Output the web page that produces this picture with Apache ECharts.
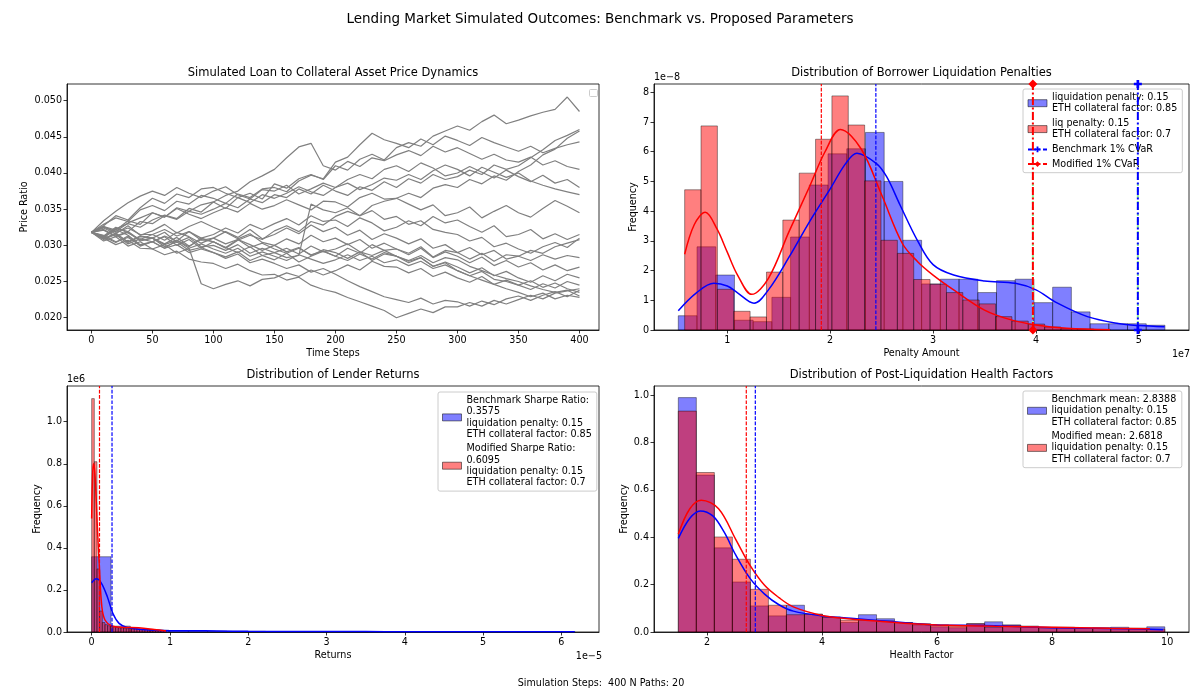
<!DOCTYPE html>
<html>
<head>
<meta charset="utf-8">
<title>Lending Market Simulated Outcomes</title>
<script src="https://cdn.jsdelivr.net/npm/echarts@6/dist/echarts.min.js"></script>
<style>
  html, body { margin: 0; padding: 0; background: #fff; }
  #chart { width: 1200px; height: 693px; }
</style>
</head>
<body>
<div id="chart"></div>
<script>
// ---- price paths (top left), read every 10 steps ----
const steps = [0,10,20,30,40,50,60,70,80,90,100,110,120,130,140,150,160,170,180,190,200,210,220,230,240,250,260,270,280,290,300,310,320,330,340,350,360,370,380,390,400];
const pathA = [0.0318,0.0326,0.0321,0.0334,0.0329,0.0345,0.0339,0.0352,0.0347,0.0356,0.0360,0.0351,0.0366,0.0372,0.0364,0.0385,0.0379,0.0392,0.0398,0.0391,0.0410,0.0404,0.0419,0.0426,0.0418,0.0435,0.0442,0.0437,0.0451,0.0458,0.0465,0.0459,0.0471,0.0480,0.0468,0.0473,0.0479,0.0484,0.0488,0.0505,0.0485];
const pathB = [0.0318,0.0312,0.0324,0.0319,0.0333,0.0330,0.0341,0.0336,0.0347,0.0343,0.0350,0.0358,0.0352,0.0364,0.0359,0.0370,0.0366,0.0378,0.0371,0.0383,0.0375,0.0369,0.0381,0.0376,0.0388,0.0380,0.0392,0.0386,0.0398,0.0391,0.0395,0.0404,0.0398,0.0411,0.0405,0.0410,0.0421,0.0432,0.0445,0.0452,0.0460];
const pathC = [0.0318,0.0309,0.0316,0.0305,0.0313,0.0310,0.0302,0.0311,0.0299,0.0308,0.0305,0.0296,0.0307,0.0314,0.0308,0.0320,0.0327,0.0319,0.0333,0.0328,0.0340,0.0347,0.0341,0.0355,0.0361,0.0365,0.0372,0.0366,0.0379,0.0384,0.0380,0.0391,0.0385,0.0396,0.0390,0.0402,0.0411,0.0425,0.0433,0.0448,0.0458];
const pathD = [0.0318,0.0329,0.0338,0.0333,0.0349,0.0355,0.0348,0.0361,0.0357,0.0369,0.0365,0.0358,0.0371,0.0366,0.0378,0.0380,0.0374,0.0389,0.0397,0.0392,0.0415,0.0422,0.0439,0.0455,0.0446,0.0441,0.0435,0.0447,0.0439,0.0451,0.0445,0.0438,0.0449,0.0442,0.0436,0.0430,0.0437,0.0428,0.0434,0.0439,0.0443];
const pathE = [0.0318,0.0311,0.0323,0.0330,0.0325,0.0335,0.0342,0.0337,0.0351,0.0346,0.0360,0.0369,0.0375,0.0388,0.0396,0.0405,0.0421,0.0436,0.0441,0.0410,0.0404,0.0416,0.0409,0.0421,0.0417,0.0425,0.0431,0.0424,0.0437,0.0429,0.0435,0.0427,0.0419,0.0426,0.0418,0.0415,0.0422,0.0411,0.0417,0.0409,0.0405];
const pathF = [0.0318,0.0334,0.0347,0.0359,0.0368,0.0375,0.0369,0.0380,0.0372,0.0366,0.0375,0.0381,0.0370,0.0364,0.0377,0.0375,0.0383,0.0371,0.0378,0.0386,0.0380,0.0391,0.0398,0.0392,0.0405,0.0410,0.0402,0.0414,0.0407,0.0396,0.0400,0.0409,0.0401,0.0393,0.0404,0.0395,0.0388,0.0397,0.0386,0.0391,0.0380];
const pathG = [0.0318,0.0327,0.0341,0.0335,0.0352,0.0365,0.0358,0.0371,0.0366,0.0378,0.0380,0.0372,0.0366,0.0359,0.0370,0.0365,0.0372,0.0381,0.0374,0.0369,0.0380,0.0386,0.0377,0.0384,0.0393,0.0390,0.0398,0.0391,0.0403,0.0411,0.0405,0.0396,0.0408,0.0401,0.0394,0.0400,0.0389,0.0383,0.0378,0.0374,0.0370];
const pathH = [0.0318,0.0325,0.0319,0.0331,0.0338,0.0345,0.0339,0.0351,0.0343,0.0337,0.0345,0.0352,0.0346,0.0358,0.0350,0.0355,0.0363,0.0356,0.0349,0.0361,0.0360,0.0353,0.0366,0.0372,0.0364,0.0365,0.0357,0.0349,0.0356,0.0341,0.0345,0.0353,0.0338,0.0347,0.0355,0.0345,0.0339,0.0351,0.0362,0.0354,0.0345];
const pathI = [0.0318,0.0311,0.0322,0.0314,0.0301,0.0305,0.0313,0.0306,0.0319,0.0310,0.0315,0.0324,0.0317,0.0329,0.0322,0.0330,0.0337,0.0328,0.0341,0.0333,0.0335,0.0326,0.0338,0.0331,0.0320,0.0325,0.0334,0.0327,0.0340,0.0331,0.0335,0.0326,0.0318,0.0327,0.0312,0.0315,0.0322,0.0309,0.0316,0.0308,0.0315];
const pathJ = [0.0318,0.0322,0.0313,0.0319,0.0307,0.0310,0.0318,0.0304,0.0311,0.0298,0.0300,0.0293,0.0301,0.0289,0.0296,0.0290,0.0283,0.0286,0.0357,0.0349,0.0345,0.0352,0.0341,0.0348,0.0336,0.0340,0.0329,0.0334,0.0322,0.0318,0.0315,0.0306,0.0311,0.0298,0.0303,0.0295,0.0289,0.0298,0.0304,0.0297,0.0310];
const pathK = [0.0318,0.0324,0.0316,0.0327,0.0314,0.0320,0.0329,0.0317,0.0326,0.0333,0.0325,0.0318,0.0309,0.0316,0.0304,0.0300,0.0309,0.0302,0.0314,0.0305,0.0310,0.0301,0.0308,0.0296,0.0303,0.0295,0.0289,0.0298,0.0284,0.0293,0.0290,0.0281,0.0289,0.0278,0.0287,0.0285,0.0293,0.0289,0.0298,0.0303,0.0308];
const pathL = [0.0318,0.0313,0.0325,0.0317,0.0308,0.0315,0.0307,0.0318,0.0312,0.0303,0.0310,0.0319,0.0311,0.0322,0.0309,0.0315,0.0324,0.0316,0.0328,0.0319,0.0325,0.0314,0.0321,0.0308,0.0316,0.0310,0.0302,0.0309,0.0296,0.0301,0.0290,0.0297,0.0287,0.0293,0.0281,0.0285,0.0279,0.0287,0.0281,0.0286,0.0283];
const pathM = [0.0318,0.0309,0.0317,0.0304,0.0312,0.0310,0.0298,0.0305,0.0293,0.0297,0.0290,0.0284,0.0291,0.0279,0.0286,0.0280,0.0289,0.0277,0.0285,0.0292,0.0285,0.0296,0.0289,0.0301,0.0293,0.0295,0.0287,0.0296,0.0283,0.0291,0.0285,0.0276,0.0284,0.0272,0.0279,0.0270,0.0276,0.0266,0.0273,0.0265,0.0270];
const pathN = [0.0318,0.0312,0.0304,0.0313,0.0299,0.0305,0.0296,0.0307,0.0298,0.0310,0.0305,0.0297,0.0308,0.0301,0.0293,0.0300,0.0291,0.0297,0.0286,0.0294,0.0290,0.0282,0.0291,0.0279,0.0288,0.0285,0.0276,0.0283,0.0271,0.0277,0.0270,0.0262,0.0269,0.0258,0.0264,0.0255,0.0249,0.0258,0.0251,0.0260,0.0255];
const pathO = [0.0318,0.0306,0.0312,0.0299,0.0305,0.0295,0.0301,0.0289,0.0296,0.0247,0.0240,0.0246,0.0251,0.0244,0.0253,0.0255,0.0262,0.0257,0.0266,0.0259,0.0265,0.0273,0.0266,0.0278,0.0271,0.0270,0.0262,0.0268,0.0257,0.0263,0.0255,0.0249,0.0257,0.0246,0.0252,0.0245,0.0239,0.0247,0.0241,0.0250,0.0245];
const pathP = [0.0318,0.0310,0.0301,0.0307,0.0296,0.0295,0.0287,0.0292,0.0281,0.0277,0.0275,0.0268,0.0274,0.0265,0.0259,0.0260,0.0252,0.0256,0.0245,0.0239,0.0235,0.0228,0.0222,0.0216,0.0210,0.0200,0.0206,0.0212,0.0207,0.0215,0.0215,0.0221,0.0216,0.0224,0.0219,0.0225,0.0231,0.0226,0.0234,0.0237,0.0240];
const pathQ = [0.0318,0.0314,0.0305,0.0311,0.0300,0.0305,0.0296,0.0301,0.0290,0.0295,0.0290,0.0282,0.0288,0.0276,0.0281,0.0275,0.0268,0.0273,0.0263,0.0268,0.0260,0.0251,0.0243,0.0236,0.0229,0.0225,0.0221,0.0227,0.0219,0.0224,0.0222,0.0216,0.0223,0.0218,0.0226,0.0230,0.0224,0.0231,0.0236,0.0229,0.0238];
const pathR = [0.0318,0.0321,0.0312,0.0318,0.0306,0.0310,0.0301,0.0307,0.0296,0.0302,0.0295,0.0289,0.0296,0.0285,0.0291,0.0285,0.0279,0.0287,0.0281,0.0275,0.0280,0.0287,0.0279,0.0285,0.0276,0.0280,0.0272,0.0278,0.0268,0.0273,0.0265,0.0258,0.0264,0.0253,0.0250,0.0245,0.0251,0.0242,0.0248,0.0240,0.0235];
const pathS = [0.0318,0.0326,0.0318,0.0324,0.0315,0.0315,0.0322,0.0313,0.0319,0.0307,0.0310,0.0302,0.0308,0.0297,0.0303,0.0295,0.0289,0.0296,0.0287,0.0292,0.0285,0.0279,0.0288,0.0281,0.0290,0.0285,0.0279,0.0286,0.0276,0.0283,0.0280,0.0271,0.0265,0.0259,0.0254,0.0250,0.0244,0.0239,0.0235,0.0238,0.0230];
const pathT = [0.0318,0.0308,0.0315,0.0302,0.0309,0.0305,0.0312,0.0300,0.0308,0.0296,0.0305,0.0297,0.0290,0.0298,0.0286,0.0290,0.0296,0.0288,0.0299,0.0291,0.0295,0.0302,0.0291,0.0286,0.0293,0.0285,0.0278,0.0283,0.0271,0.0276,0.0265,0.0258,0.0252,0.0246,0.0240,0.0235,0.0229,0.0234,0.0226,0.0231,0.0228];
const pricePaths = [pathA, pathB, pathC, pathD, pathE, pathF, pathG, pathH, pathI, pathJ, pathK, pathL, pathM, pathN, pathO, pathP, pathQ, pathR, pathS, pathT];

// ---- borrower liquidation penalties (top right), x in 1e7, density in 1e-8 ----
const penaltyBenchStart = 0.524, penaltyBenchWidth = 0.1819;
const penaltyBench = [0.48,2.80,1.85,0.33,0.28,1.10,3.13,4.88,5.93,6.10,6.65,5.00,3.02,1.55,1.71,1.71,1.26,1.66,1.71,0.92,1.44,0.61,0.21,0.21,0.21,0.16];
const penaltyModStart = 0.586, penaltyModWidth = 0.159;
const penaltyMod = [4.72,6.87,1.37,0.63,0.44,1.95,3.70,5.28,6.42,7.88,6.90,5.02,3.02,2.58,1.70,1.54,1.26,1.01,0.88,0.45,0.30,0.20,0.10,0.05,0.03,0.02];
const penaltyBenchKdeX = [0.524,0.70,0.87,1.00,1.10,1.26,1.40,1.60,1.80,2.00,2.15,2.26,2.45,2.55,2.68,2.85,3.00,3.20,3.50,3.80,4.00,4.20,4.50,4.80,5.00,5.25];
const penaltyBenchKdeY = [0.65,1.25,1.57,1.48,1.25,0.90,1.35,2.45,3.65,4.75,5.60,5.95,5.60,5.15,4.20,3.00,2.20,1.85,1.65,1.57,1.35,0.92,0.45,0.22,0.15,0.11];
const penaltyModKdeX = [0.586,0.68,0.786,0.90,1.00,1.10,1.237,1.40,1.60,1.80,1.95,2.10,2.30,2.50,2.70,2.85,3.00,3.20,3.50,3.75,4.00,4.30,4.72];
const penaltyModKdeY = [2.55,3.55,3.96,3.40,2.62,1.85,1.20,1.74,3.31,4.83,6.00,6.75,6.10,4.55,2.92,2.30,1.85,1.35,0.67,0.35,0.17,0.06,0.01];
const penaltyMeans = { bench: 2.444, mod: 1.914 };
const penaltyCvar = { bench: 4.99, mod: 3.97 };

// ---- lender returns (bottom left), x in 1e-5, density in 1e6 ----
const returnBenchStart = 0, returnBenchWidth = 0.247;
const returnBench = [0.358,0.028,0.012,0.008,0.006,0.005,0.004,0.003,0.003,0.002,0.002,0.002,0.002,0.001,0.001,0.001,0.001,0.001,0.001,0.001,0.001,0.001,0.0005,0.0005,0.0005];
const returnModStart = 0, returnModWidth = 0.034;
const returnMod = [1.11,0.81,0.30,0.10,0.045,0.035,0.030,0.028,0.025,0.022,0.020,0.020,0.018,0.016,0.018,0.020,0.018,0.016,0.015,0.014,0.012,0.012,0.012,0.010,0.010,0.009,0.008,0.006];
const returnBenchKdeX = [0,0.06,0.12,0.20,0.27,0.35,0.45,0.60,0.80,1.00,1.30,1.60,2.00,2.50,3.00,3.50,4.00,4.50,5.00,5.50,6.17];
const returnBenchKdeY = [0.234,0.253,0.235,0.168,0.089,0.041,0.022,0.013,0.008,0.006,0.006,0.005,0.003,0.002,0.002,0.002,0.001,0.001,0.001,0.001,0.001];
const returnModKdeX = [0,0.01,0.022,0.035,0.05,0.07,0.10,0.13,0.17,0.25,0.40,0.60,0.80,0.95];
const returnModKdeY = [0.54,0.72,0.80,0.78,0.70,0.52,0.295,0.12,0.057,0.030,0.022,0.020,0.012,0.005];
const returnMeans = { bench: 0.26, mod: 0.10 };

// ---- post-liquidation health factors (bottom right) ----
const healthStart = 1.5, healthWidth = 0.3133;
const healthBench = [0.989,0.662,0.355,0.211,0.110,0.068,0.113,0.075,0.063,0.040,0.073,0.056,0.040,0.030,0.022,0.018,0.035,0.043,0.030,0.025,0.020,0.018,0.015,0.018,0.020,0.016,0.022];
const healthMod = [0.932,0.673,0.401,0.307,0.180,0.113,0.073,0.075,0.062,0.050,0.050,0.047,0.040,0.035,0.030,0.025,0.035,0.020,0.028,0.020,0.018,0.020,0.016,0.015,0.015,0.014,0.012];
const healthBenchKdeX = [1.5,1.7,1.88,2.1,2.3,2.5,2.75,3.0,3.25,3.5,4.0,4.5,5.0,5.5,6.0,6.5,7.0,7.5,8.0,8.5,9.0,9.5,9.93];
const healthBenchKdeY = [0.395,0.48,0.511,0.49,0.42,0.324,0.225,0.16,0.115,0.088,0.068,0.058,0.048,0.038,0.030,0.028,0.026,0.022,0.018,0.016,0.015,0.013,0.010];
const healthModKdeX = [1.5,1.7,1.9,2.2,2.5,2.75,3.0,3.25,3.5,4.0,4.5,5.0,5.5,6.0,7.0,8.0,9.0,9.7];
const healthModKdeY = [0.413,0.52,0.556,0.52,0.39,0.28,0.197,0.145,0.106,0.070,0.055,0.045,0.036,0.030,0.024,0.020,0.016,0.014];
const healthMeans = { bench: 2.8388, mod: 2.6818 };

// ---- tick labels ----
const stepTicks = [0,50,100,150,200,250,300,350,400];
const priceTicks = [0.020,0.025,0.030,0.035,0.040,0.045,0.050];
const penaltyTicks = [1,2,3,4,5];
const penaltyFreqTicks = [0,1,2,3,4,5,6,7,8];
const returnTicks = [0,1,2,3,4,5,6];
const healthTicks = [2,4,6,8,10];
const freqTicks = [0,0.2,0.4,0.6,0.8,1.0];

const FONT = 'DejaVu Sans';
const BLUE = '#0000ff', RED = '#ff0000';
const BLUE_FILL = 'rgba(0,0,255,0.5)', RED_FILL = 'rgba(255,0,0,0.5)';
const EDGE = 'rgba(0,0,0,0.5)';

// y-limits (top of each panel)
const yTop = [0.0523, 8.28, 1.17, 1.038];

const names = {
  penBench: 'liquidation penalty: 0.15\nETH collateral factor: 0.85',
  penMod: 'liq penalty: 0.15\nETH collateral factor: 0.7',
  cvarBench: 'Benchmark 1% CVaR',
  cvarMod: 'Modified 1% CVaR',
  retBench: 'Benchmark Sharpe Ratio:\n0.3575\nliquidation penalty: 0.15\nETH collateral factor: 0.85',
  retMod: 'Modified Sharpe Ratio:\n0.6095\nliquidation penalty: 0.15\nETH collateral factor: 0.7',
  hfBench: 'Benchmark mean: 2.8388\nliquidation penalty: 0.15\nETH collateral factor: 0.85',
  hfMod: 'Modified mean: 2.6818\nliquidation penalty: 0.15\nETH collateral factor: 0.7'
};

function makeBins(start, width, heights) {
  return heights.map((h, i) => [start + i * width, start + (i + 1) * width, h]);
}
function zip(xs, ys) { return xs.map((x, i) => [x, ys[i]]); }

function histSeries(name, bins, fill, g) {
  return {
    type: 'custom', name, xAxisIndex: g, yAxisIndex: g, data: bins,
    encode: { x: [0, 1], y: 2 }, silent: true,
    itemStyle: { color: fill, borderColor: EDGE, borderWidth: 1 },
    renderItem: function (params, api) {
      const p0 = api.coord([api.value(0), api.value(2)]);
      const p1 = api.coord([api.value(1), 0]);
      return {
        type: 'rect',
        shape: { x: p0[0], y: p0[1], width: p1[0] - p0[0], height: p1[1] - p0[1] },
        style: { fill: fill, stroke: EDGE, lineWidth: 0.8 }
      };
    }
  };
}
function kdeSeries(name, data, color, g) {
  return {
    type: 'line', name, xAxisIndex: g, yAxisIndex: g, data, symbol: 'none',
    smooth: 0.35, silent: true, lineStyle: { color, width: 1.5 }
  };
}
function vline(name, x, g, lineStyle, extra) {
  return Object.assign({
    type: 'line', name, xAxisIndex: g, yAxisIndex: g,
    data: [[x, 0], [x, yTop[g]]], symbol: 'none', silent: true, lineStyle
  }, extra || {});
}

function axisOf(g, pos, min, max, ticks, name, gap, fmt) {
  return {
    type: 'value', gridIndex: g, position: pos, min, max, name, nameLocation: 'middle', nameGap: gap,
    nameTextStyle: { fontFamily: FONT, fontSize: 9.6, color: '#000' },
    axisLine: { show: true, onZero: false, lineStyle: { color: '#000', width: 0.8 } },
    splitLine: { show: false },
    axisTick: { show: true, customValues: ticks, length: 3.5, lineStyle: { color: '#000', width: 0.8 } },
    axisLabel: { customValues: ticks, formatter: fmt, fontFamily: FONT, fontSize: 9.6, color: '#000', margin: 5 }
  };
}

const gridBox = { show: true, borderColor: '#000', borderWidth: 0.8, outerBoundsMode: 'none' };
const grids = [
  Object.assign({ left: 67, top: 84, width: 532, height: 246 }, gridBox),
  Object.assign({ left: 654, top: 84, width: 535, height: 246 }, gridBox),
  Object.assign({ left: 67, top: 386, width: 532, height: 246 }, gridBox),
  Object.assign({ left: 654, top: 386, width: 535, height: 246 }, gridBox)
];

const plain = v => String(v);
const xAxes = [
  axisOf(0, 'bottom', -20, 416, stepTicks, 'Time Steps', 18, plain),
  axisOf(1, 'bottom', 0.288, 5.487, penaltyTicks, 'Penalty Amount', 18, plain),
  axisOf(2, 'bottom', -0.315, 6.48, returnTicks, 'Returns', 18, plain),
  axisOf(3, 'bottom', 1.077, 10.38, healthTicks, 'Health Factor', 18, plain)
];
const yAxes = [
  axisOf(0, 'left', 0.0183, yTop[0], priceTicks, 'Price Ratio', 38, v => v.toFixed(3)),
  axisOf(1, 'left', 0, yTop[1], penaltyFreqTicks, 'Frequency', 16, plain),
  axisOf(2, 'left', 0, yTop[2], freqTicks, 'Frequency', 25, v => v.toFixed(1)),
  axisOf(3, 'left', 0, yTop[3], freqTicks, 'Frequency', 24, v => v.toFixed(1))
];

const plusSymbol = 'path://M2,0h2v2h2v2h-2v2h-2v-2h-2v-2h2z';
const dashed = color => ({ color, width: 1.2, type: [3.7, 1.6], opacity: 1 });

const series = [];
pricePaths.forEach((p, k) => {
  series.push({
    type: 'line', name: 'path ' + (k + 1), xAxisIndex: 0, yAxisIndex: 0,
    data: zip(steps, p), symbol: 'none', silent: true,
    lineStyle: { color: '#808080', width: 1.2 }
  });
});

// top right
series.push(histSeries(names.penBench, makeBins(penaltyBenchStart, penaltyBenchWidth, penaltyBench), BLUE_FILL, 1));
series.push(kdeSeries('pen bench kde', zip(penaltyBenchKdeX, penaltyBenchKdeY), BLUE, 1));
series.push(histSeries(names.penMod, makeBins(penaltyModStart, penaltyModWidth, penaltyMod), RED_FILL, 1));
series.push(kdeSeries('pen mod kde', zip(penaltyModKdeX, penaltyModKdeY), RED, 1));
series.push(vline('pen bench mean', penaltyMeans.bench, 1, dashed(BLUE), { z: 5 }));
series.push(vline('pen mod mean', penaltyMeans.mod, 1, dashed(RED), { z: 5 }));
series.push(vline('pen bench green', penaltyCvar.bench, 1, { color: '#90ee90', width: 2, type: [3, 3] }, { z: 3 }));
series.push(vline('pen mod green', penaltyCvar.mod, 1, { color: '#90ee90', width: 2, type: [3, 3] }, { z: 3 }));
series.push(vline(names.cvarBench, penaltyCvar.bench, 1, { color: BLUE, width: 2, type: [8, 2.5, 2, 2.5] },
  { z: 4, symbol: plusSymbol, symbolSize: 8, showSymbol: true, itemStyle: { color: BLUE }, clip: false }));
series.push(vline(names.cvarMod, penaltyCvar.mod, 1, { color: RED, width: 2, type: [8, 2.5, 2, 2.5] },
  { z: 4, symbol: 'diamond', symbolSize: 9, showSymbol: true, itemStyle: { color: RED }, clip: false }));

// bottom left
series.push(histSeries(names.retBench, makeBins(returnBenchStart, returnBenchWidth, returnBench), BLUE_FILL, 2));
series.push(kdeSeries('ret bench kde', zip(returnBenchKdeX, returnBenchKdeY), BLUE, 2));
series.push(histSeries(names.retMod, makeBins(returnModStart, returnModWidth, returnMod), RED_FILL, 2));
series.push(kdeSeries('ret mod kde', zip(returnModKdeX, returnModKdeY), RED, 2));
series.push(vline('ret bench mean', returnMeans.bench, 2, dashed(BLUE), { z: 5 }));
series.push(vline('ret mod mean', returnMeans.mod, 2, dashed(RED), { z: 6 }));

// bottom right
series.push(histSeries(names.hfBench, makeBins(healthStart, healthWidth, healthBench), BLUE_FILL, 3));
series.push(kdeSeries('hf bench kde', zip(healthBenchKdeX, healthBenchKdeY), BLUE, 3));
series.push(histSeries(names.hfMod, makeBins(healthStart, healthWidth, healthMod), RED_FILL, 3));
series.push(kdeSeries('hf mod kde', zip(healthModKdeX, healthModKdeY), RED, 3));
series.push(vline('hf bench mean', healthMeans.bench, 3, dashed(BLUE), { z: 5 }));
series.push(vline('hf mod mean', healthMeans.mod, 3, dashed(RED), { z: 5 }));

const patch = (name, fill) => ({ name, icon: 'rect', itemStyle: { color: fill, borderColor: EDGE, borderWidth: 1 } });
function legendOf(left, top, data) {
  return {
    left, top, orient: 'vertical', data, selectedMode: false,
    itemWidth: 19, itemHeight: 7, itemGap: 3.5, padding: [3, 5, 3, 4],
    backgroundColor: 'rgba(255,255,255,0.8)', borderColor: '#cccccc', borderWidth: 1, borderRadius: 2,
    textStyle: { fontFamily: FONT, fontSize: 9.6, color: '#000', lineHeight: 11.2 }
  };
}
const legends = [
  legendOf(1023, 89, [patch(names.penBench, BLUE_FILL), patch(names.penMod, RED_FILL), { name: names.cvarBench }, { name: names.cvarMod }]),
  legendOf(438, 392, [patch(names.retBench, BLUE_FILL), patch(names.retMod, RED_FILL)]),
  legendOf(1023, 391, [patch(names.hfBench, BLUE_FILL), patch(names.hfMod, RED_FILL)])
];

function label(text, x, y, size, align) {
  return {
    type: 'text', x, y, silent: true,
    style: { text, fontFamily: FONT, fontSize: size, fill: '#000', align: align || 'center', verticalAlign: 'middle' }
  };
}
const graphics = [
  label('Lending Market Simulated Outcomes: Benchmark vs. Proposed Parameters', 600, 19, 13.5),
  label('Simulated Loan to Collateral Asset Price Dynamics', 333, 73, 11.5),
  label('Distribution of Borrower Liquidation Penalties', 921.5, 73, 11.5),
  label('Distribution of Lender Returns', 333, 375, 11.5),
  label('Distribution of Post-Liquidation Health Factors', 921.5, 375, 11.5),
  label('1e\u22128', 654, 77, 9.6, 'left'),
  label('1e7', 1190, 354, 9.6, 'right'),
  label('1e6', 67, 379, 9.6, 'left'),
  label('1e\u22125', 602, 656, 9.6, 'right'),
  label('Simulation Steps:  400 N Paths: 20', 601, 683, 9.6),
  { type: 'rect', silent: true, shape: { x: 589.5, y: 89.5, width: 8, height: 7, r: 1 },
    style: { fill: 'rgba(255,255,255,0.8)', stroke: '#cccccc', lineWidth: 1 } }
];

const chart = echarts.init(document.getElementById('chart'), null, { renderer: 'canvas', width: 1200, height: 693 });
chart.setOption({
  backgroundColor: '#fff',
  animation: false,
  textStyle: { fontFamily: FONT },
  grid: grids,
  xAxis: xAxes,
  yAxis: yAxes,
  legend: legends,
  series: series,
  graphic: graphics
});
</script>
</body>
</html>
